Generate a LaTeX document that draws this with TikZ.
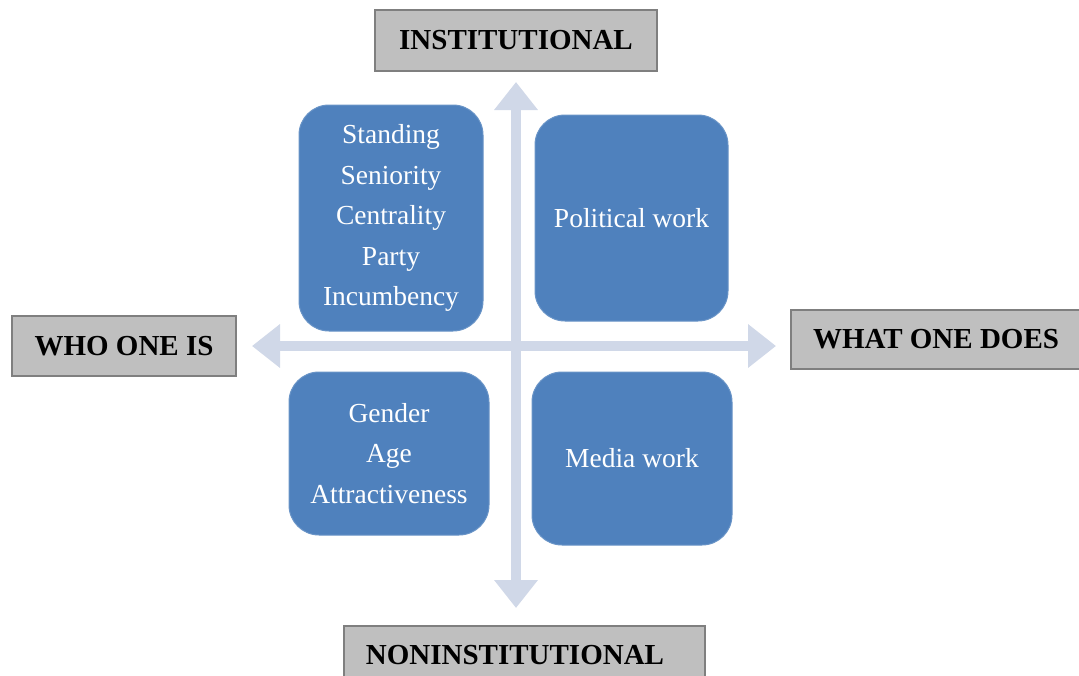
\documentclass[tikz,border=0pt]{standalone}
\usepackage{fontspec}
\setmainfont{Liberation Serif}
\usetikzlibrary{arrows.meta}
\definecolor{boxblue}{HTML}{4F81BD}
\definecolor{axisblue}{HTML}{D0D8E8}
\definecolor{labelgray}{HTML}{BFBFBF}
\definecolor{labeledge}{HTML}{7F7F7F}
\tikzset{
  quad/.style={draw=boxblue!85!white, line width=1pt, fill=boxblue, rounded corners=30pt, text=white,
    align=center, inner sep=0pt, font=\fontsize{27.5}{40.5}\selectfont},
  axislabel/.style={draw=labeledge, line width=1.5pt, fill=labelgray, inner sep=0pt,
    font=\bfseries\fontsize{29}{34}\selectfont},
  axisarrow/.style={draw=axisblue, line width=10pt, -{Triangle[width=42pt,length=28pt]}}
}
\begin{document}
\begin{tikzpicture}[x=1pt,y=-1pt]
\clip (0,0) rectangle (1079,675);
\fill[white] (0,0) rectangle (1079,675);
% axes
\coordinate (c) at (516,346);
\coordinate (top) at (516,82);
\coordinate (bot) at (516,608);
\coordinate (lft) at (252,346);
\coordinate (rgt) at (776,346);
\draw[axisarrow] (c) -- (top);
\draw[axisarrow] (c) -- (bot);
\draw[axisarrow] (c) -- (lft);
\draw[axisarrow] (c) -- (rgt);
% quadrant boxes
\node[quad, minimum width=184pt, minimum height=226pt] (tl) at (391,218)
  {Standing\\Seniority\\Centrality\\Party\\Incumbency};
\node[quad, minimum width=193pt, minimum height=206pt] (tr) at (631.5,218) {Political work};
\node[quad, minimum width=200pt, minimum height=163pt] (bl) at (389,453.5)
  {Gender\\Age\\Attractiveness};
\node[quad, minimum width=200pt, minimum height=173pt] (br) at (632,458.5) {Media work};
% axis labels
\node[axislabel, minimum width=282pt, minimum height=61pt] (inst) at (516,40.5) {INSTITUTIONAL};
\node[axislabel, minimum width=224pt, minimum height=60pt] (who) at (124,346) {WHO ONE IS};
\node[axislabel, minimum width=290pt, minimum height=59pt] (what) at (936,339.5) {WHAT ONE DOES};
\node[axislabel, minimum width=361pt, minimum height=80pt, anchor=north] (non) at (524.5,625) {};
\node[font=\bfseries\fontsize{29}{34}\selectfont, anchor=base] at (515,664) {NONINSTITUTIONAL};
\end{tikzpicture}
\end{document}
